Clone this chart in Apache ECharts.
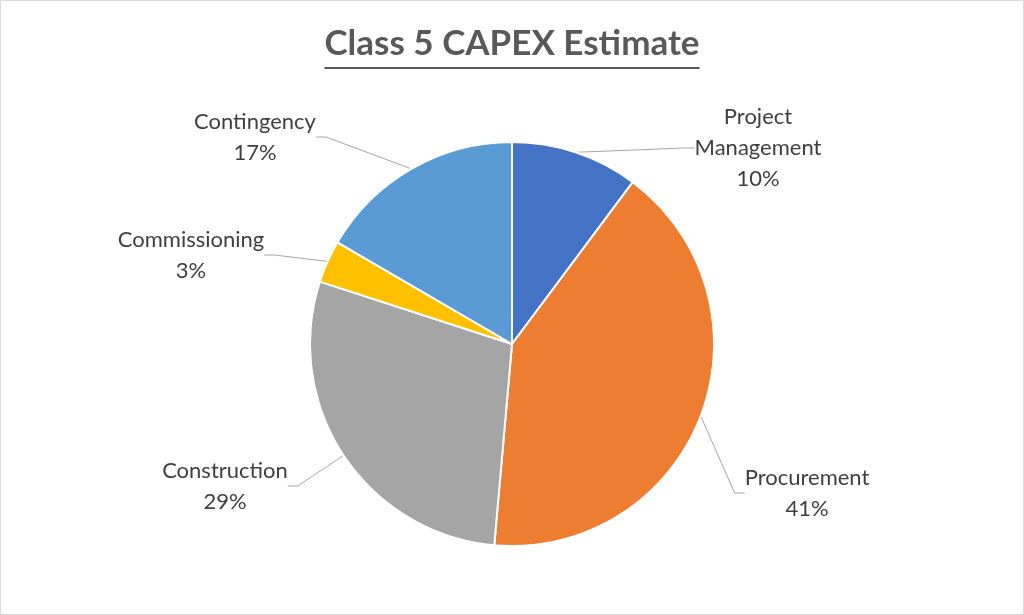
<!DOCTYPE html>
<html>
<head>
<meta charset="utf-8">
<script src="https://cdn.jsdelivr.net/npm/echarts@6/dist/echarts.min.js"></script>
<style>
    html, body { margin: 0; padding: 0; background: #fff; }
    #chart { width: 1024px; height: 615px; box-sizing: border-box; border: 1px solid #d9d9d9; }
</style>
</head>
<body>
<div id="chart"></div>
<script>
// chart data
var titleText = 'Class 5 CAPEX Estimate';
var categories = ['Project\nManagement', 'Procurement', 'Construction', 'Commissioning', 'Contingency'];
var values = [10.2, 41.2, 28.6, 3.4, 16.6];
var colors = ['#4472C4', '#ED7D31', '#A5A5A5', '#FFC000', '#5B9BD5'];

// where each label block sits (centre of text)
var labelPos = [[757, 147], [806, 492], [224, 485], [190, 254], [254, 136]];

var capex = function(){
    var obj = {};

    obj.init = function(){
        var chart = echarts.init(document.getElementById('chart'));
        var font = 'Lato, "Noto Sans", sans-serif';

        // measure the title so the underline fits it
        var ctx = document.createElement('canvas').getContext('2d');
        ctx.font = 'bold 35px ' + font;
        var titleW = ctx.measureText(titleText).width;

        var pieData = [];
        for (var i = 0; i < values.length; i++){
            pieData.push({name: categories[i], value: values[i], itemStyle: {color: colors[i]}});
        }

        var option = {
            animation: false,
            backgroundColor: '#fff',
            graphic: [
                {
                    type: 'text',
                    left: 'center',
                    top: 25,
                    style: {text: titleText, font: 'bold 35px ' + font, fill: '#595959'}
                },
                {
                    type: 'rect',
                    left: 'center',
                    top: 66,
                    shape: {width: titleW, height: 2},
                    style: {fill: '#595959'}
                }
            ],
            series: [{
                type: 'pie',
                center: [511, 343],
                radius: 202,
                startAngle: 90,
                clockwise: true,
                data: pieData,
                itemStyle: {borderColor: '#fff', borderWidth: 2},
                label: {
                    show: true,
                    position: 'outside',
                    formatter: function(p){
                        return p.name + '\n' + Math.round(p.percent) + '%';
                    },
                    color: '#404040',
                    fontSize: 22,
                    lineHeight: 31,
                    fontFamily: font,
                    align: 'center'
                },
                labelLine: {
                    show: true,
                    length: 15,
                    length2: 10,
                    lineStyle: {color: '#a6a6a6', width: 1}
                },
                labelLayout: function(params){
                    var p = labelPos[params.dataIndex];
                    return {x: p[0], y: p[1], align: 'center', verticalAlign: 'middle'};
                },
                emphasis: {disabled: true}
            }]
        };
        chart.setOption(option);
    };
    return obj;
}();

capex.init();
</script>
</body>
</html>
